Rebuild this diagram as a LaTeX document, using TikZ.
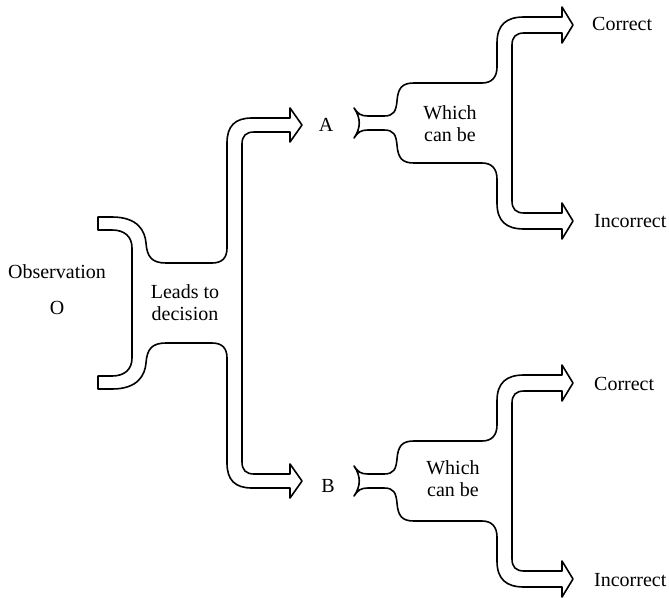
\documentclass[tikz,border=0pt]{standalone}
\usepackage{fontspec}
\setmainfont{Liberation Serif}
\usepackage{tikz}

\begin{document}
\begin{tikzpicture}[x=1pt, y=-1pt,
        pipe/.style={line width=1.6pt, line join=round},
        lbl/.style={font=\fontsize{20}{22}\selectfont, align=center, inner sep=0pt}]
        \useasboundingbox (0,0) rectangle (669,597);

        % we draw the first pipe: observation splits into A and B
        \begin{scope}[shift={(0,303)}]
        \draw[pipe] (98,-86) -- (112,-86)
            .. controls (138,-86) and (145,-72) .. (146,-60)
            .. controls (147,-46) and (152,-40) .. (166,-40) -- (212,-40)
            .. controls (222,-40) and (227,-45) .. (227,-55) -- (227,-160)
            .. controls (227,-177) and (235,-185) .. (252,-185) -- (290,-185)
            -- (290,-195) -- (302,-178) -- (290,-161) -- (290,-171) -- (254,-171)
            .. controls (246,-171) and (242,-167) .. (242,-159) -- (242,159)
            .. controls (242,167) and (246,171) .. (254,171) -- (290,171)
            -- (290,161) -- (302,178) -- (290,195) -- (290,185) -- (252,185)
            .. controls (235,185) and (227,177) .. (227,160) -- (227,55)
            .. controls (227,45) and (222,40) .. (212,40) -- (166,40)
            .. controls (152,40) and (147,46) .. (146,60)
            .. controls (145,72) and (138,86) .. (112,86) -- (98,86) -- (98,73) -- (112,73)
            .. controls (125,73) and (132,66) .. (132,55) -- (132,-55)
            .. controls (132,-66) and (125,-73) .. (112,-73) -- (98,-73) -- cycle;
        \end{scope}

        % we draw the two pipes that split into correct and incorrect
        \foreach \yc in {123,481} {
        \begin{scope}[shift={(0,\yc)}]
        \draw[pipe] (354,-15)
            .. controls (358,-9) and (361,-7) .. (368,-7) -- (384,-7)
            .. controls (394,-7) and (396,-12) .. (397,-22)
            .. controls (398,-35) and (402,-40) .. (414,-40) -- (482,-40)
            .. controls (492,-40) and (497,-46) .. (497,-56) -- (497,-80)
            .. controls (497,-98) and (506,-106) .. (524,-106) -- (562,-106)
            -- (562,-116) -- (573,-98) -- (562,-80) -- (562,-90) -- (524,-90)
            .. controls (516,-90) and (512,-86) .. (512,-78) -- (512,78)
            .. controls (512,86) and (516,90) .. (524,90) -- (562,90)
            -- (562,80) -- (573,98) -- (562,116) -- (562,106) -- (524,106)
            .. controls (506,106) and (497,98) .. (497,80) -- (497,56)
            .. controls (497,46) and (492,40) .. (482,40) -- (414,40)
            .. controls (402,40) and (398,35) .. (397,22)
            .. controls (396,12) and (394,7) .. (384,7) -- (368,7)
            .. controls (361,7) and (358,9) .. (354,15)
            .. controls (361,5) and (361,-5) .. (354,-15) -- cycle;
        \end{scope}
        }

        % we add the labels
        \node[lbl] (obs) at (57,272) {Observation};
        \node[lbl] (ocap) at (57,308) {O};
        \node[lbl] (leads) at (185,303) {Leads to\\decision};
        \node[lbl] (labA) at (326,125) {A};
        \node[lbl] (labB) at (328,486) {B};
        \node[lbl] (which1) at (450,124) {Which\\can be};
        \node[lbl] (which2) at (453,479) {Which\\can be};
        \node[lbl, anchor=west] (corr1) at (592,24) {Correct};
        \node[lbl, anchor=west] (incorr1) at (594,221) {Incorrect};
        \node[lbl, anchor=west] (corr2) at (594,384) {Correct};
        \node[lbl, anchor=west] (incorr2) at (594,580) {Incorrect};
    \end{tikzpicture}
\end{document}
